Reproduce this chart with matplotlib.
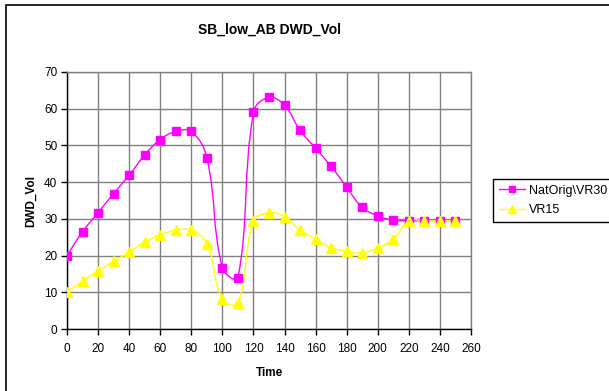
import numpy as np
import matplotlib
matplotlib.use("Agg")
import matplotlib.pyplot as plt
from matplotlib.path import Path
from matplotlib.patches import PathPatch, Rectangle
from matplotlib.lines import Line2D

plt.rcParams['font.family'] = ['Liberation Sans', 'DejaVu Sans']

# ---------- données ----------
time = [0, 10, 20, 30, 40, 50, 60, 70, 80, 90, 100, 110, 120, 130,
        140, 150, 160, 170, 180, 190, 200, 210, 220, 230, 240, 250]
natorig_vr30 = [20.0, 26.5, 31.7, 36.9, 41.9, 47.4, 51.6, 53.8, 53.8, 46.7, 16.7, 14.0, 59.0, 63.1,
                60.9, 54.1, 49.2, 44.3, 38.6, 33.1, 30.8, 29.6, 29.5, 29.5, 29.5, 29.5]
vr15 = [10.0, 13.1, 15.8, 18.5, 20.9, 23.7, 25.6, 26.9, 26.9, 23.2, 8.1, 7.1, 29.4, 31.6,
        30.6, 26.9, 24.5, 22.1, 21.2, 20.7, 22.1, 24.5, 29.5, 29.5, 29.5, 29.5]
series_names = ["NatOrig\\VR30", "VR15"]
# -----------------------------

# échelle écran (px par unité) pour le lissage
PX_X = (471 - 67) / 260.0
PX_Y = (329 - 72) / 70.0


def smooth_path(x, y):
    """Courbe lissée façon Excel : Bézier dont les tangentes sont pondérées
    par la longueur (à l'écran) des segments voisins."""
    pts = np.column_stack([np.asarray(x, float), np.asarray(y, float)])
    scr = pts * [PX_X, PX_Y]
    n = len(pts)
    verts = [pts[0]]
    codes = [Path.MOVETO]
    for i in range(n - 1):
        i0 = max(i - 1, 0)
        i3 = min(i + 2, n - 1)
        p0, p1, p2, p3 = pts[i0], pts[i], pts[i + 1], pts[i3]
        d01 = np.hypot(*(scr[i] - scr[i0]))
        d12 = np.hypot(*(scr[i + 1] - scr[i]))
        d23 = np.hypot(*(scr[i3] - scr[i + 1]))
        f1 = d12 / (d01 + d12) / 2.5 if d01 > 0 else 1 / 6.0
        f2 = d12 / (d12 + d23) / 2.5 if d23 > 0 else 1 / 6.0
        c1 = p1 + (p2 - p0) * f1
        c2 = p2 - (p3 - p1) * f2
        verts += [c1, c2, p2]
        codes += [Path.CURVE4] * 3
    return Path(verts, codes)


fig = plt.figure(figsize=(6.09, 3.91), dpi=100)
fig.patches.append(Rectangle((6 / 609, -0.1), 1.2, 1 - 5 / 391 + 0.1, transform=fig.transFigure,
                             fill=False, edgecolor="black", linewidth=1.2))

ax = fig.add_axes([67 / 609, 1 - 329 / 391, (471 - 67) / 609, (329 - 72) / 391])

styles = [
    {"color": "#ff00ff", "marker": "s", "ms": 5.5},
    {"color": "#ffff00", "marker": "^", "ms": 6.5},
]
for ys, name, st in zip([natorig_vr30, vr15], series_names, styles):
    ax.add_patch(PathPatch(smooth_path(time, ys), facecolor="none",
                           edgecolor=st["color"], linewidth=1.0, zorder=3))
    ax.plot(time, ys, linestyle="none", marker=st["marker"], markersize=st["ms"],
            color=st["color"], markeredgecolor=st["color"], zorder=4)

ax.set_xlim(0, 260)
ax.set_ylim(0, 70)
ax.set_xticks(np.arange(0, 261, 20))
ax.set_yticks(np.arange(0, 71, 10))
ax.grid(True, color="#808080", linewidth=1.0)
ax.set_axisbelow(True)
ax.tick_params(labelsize=8.5, length=4, width=1, direction="out")
ax.tick_params(axis="x", pad=6)
ax.tick_params(axis="y", pad=3)

for side in ["left", "bottom"]:
    ax.spines[side].set_color("black")
    ax.spines[side].set_linewidth(1.0)
for side in ["top", "right"]:
    ax.spines[side].set_color("#808080")
    ax.spines[side].set_linewidth(1.0)

ax.set_xlabel("Time", fontsize=8.5, fontweight="bold", labelpad=9)
ax.set_ylabel("DWD_Vol", fontsize=8.5, fontweight="bold", labelpad=5)
fig.text(0.5 * (67 + 471) / 609, 1 - 30 / 391, "SB_low_AB DWD_Vol", ha="center", va="center",
         fontsize=10, fontweight="bold")

handles = [Line2D([0], [0], color=st["color"], marker=st["marker"], markersize=st["ms"] - 1,
                  linewidth=1.0) for st in styles]
leg = fig.legend(handles, series_names, loc="upper left",
                 bbox_to_anchor=(493 / 609, 1 - 179 / 391), fontsize=9,
                 frameon=True, fancybox=False, edgecolor="black", framealpha=1,
                 handlelength=2.1, handletextpad=0.3, borderpad=0.45, labelspacing=0.6,
                 borderaxespad=0)
leg.get_frame().set_linewidth(1.0)

fig.savefig("out.png", dpi=100)
